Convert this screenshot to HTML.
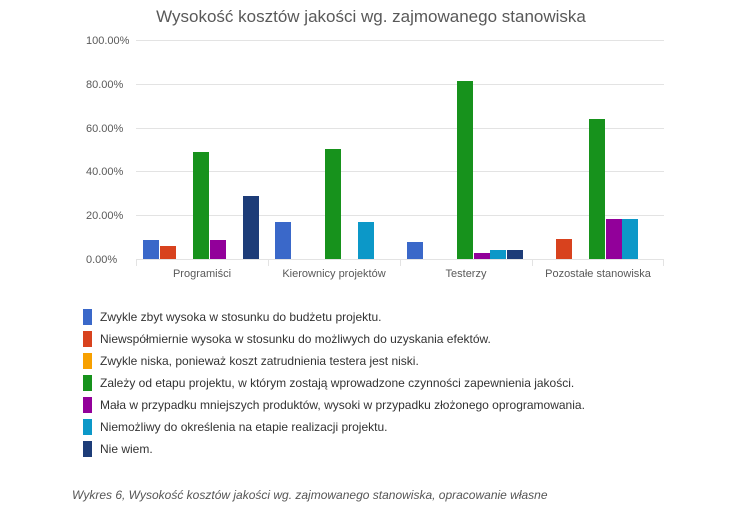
<!DOCTYPE html>
<html><head><meta charset="utf-8"><style>
body{margin:0;background:#fff}
svg{display:block}
</style></head><body>
<svg width="742" height="513" xmlns="http://www.w3.org/2000/svg" font-family="Liberation Sans, sans-serif">
<rect width="742" height="513" fill="#fff"/>
<text x="371" y="22" text-anchor="middle" font-size="17" fill="#595959">Wysokość kosztów jakości wg. zajmowanego stanowiska</text>
<g stroke="#e3e3e3" stroke-width="1">
<line x1="136" y1="40.5" x2="664" y2="40.5"/>
<line x1="136" y1="84.5" x2="664" y2="84.5"/>
<line x1="136" y1="128.5" x2="664" y2="128.5"/>
<line x1="136" y1="171.5" x2="664" y2="171.5"/>
<line x1="136" y1="215.5" x2="664" y2="215.5"/>
<line x1="136" y1="259.5" x2="664" y2="259.5"/>
<line x1="136.5" y1="259" x2="136.5" y2="266"/>
<line x1="268.5" y1="259" x2="268.5" y2="266"/>
<line x1="400.5" y1="259" x2="400.5" y2="266"/>
<line x1="532.5" y1="259" x2="532.5" y2="266"/>
<line x1="663.5" y1="259" x2="663.5" y2="266"/>
</g>
<g font-size="11" fill="#595959">
<text x="86" y="44">100.00%</text>
<text x="86" y="88">80.00%</text>
<text x="86" y="132">60.00%</text>
<text x="86" y="175">40.00%</text>
<text x="86" y="219">20.00%</text>
<text x="86" y="263">0.00%</text>
<text x="202" y="277" text-anchor="middle">Programiści</text>
<text x="334" y="277" text-anchor="middle">Kierownicy projektów</text>
<text x="466" y="277" text-anchor="middle">Testerzy</text>
<text x="598" y="277" text-anchor="middle">Pozostałe stanowiska</text>
</g>
<g>
<!-- Programiści -->
<rect x="143" y="240" width="16" height="19" fill="#3a68c9"/>
<rect x="160" y="246" width="16" height="13" fill="#d8421e"/>
<rect x="193" y="152" width="16" height="107" fill="#17921c"/>
<rect x="210" y="240" width="16" height="19" fill="#92009a"/>
<rect x="243" y="196" width="16" height="63" fill="#1d3c78"/>
<!-- Kierownicy -->
<rect x="275" y="222" width="16" height="37" fill="#3a68c9"/>
<rect x="325" y="149" width="16" height="110" fill="#17921c"/>
<rect x="358" y="222" width="16" height="37" fill="#0c98c8"/>
<!-- Testerzy -->
<rect x="407" y="242" width="16" height="17" fill="#3a68c9"/>
<rect x="457" y="81" width="16" height="178" fill="#17921c"/>
<rect x="474" y="253" width="16" height="6" fill="#92009a"/>
<rect x="490" y="250" width="16" height="9" fill="#0c98c8"/>
<rect x="507" y="250" width="16" height="9" fill="#1d3c78"/>
<!-- Pozostałe -->
<rect x="556" y="239" width="16" height="20" fill="#d8421e"/>
<rect x="589" y="119" width="16" height="140" fill="#17921c"/>
<rect x="606" y="219" width="16" height="40" fill="#92009a"/>
<rect x="622" y="219" width="16" height="40" fill="#0c98c8"/>
</g>
<g font-size="12" fill="#333">
<rect x="83" y="309" width="9" height="16" fill="#3a68c9"/><text x="100" y="321">Zwykle zbyt wysoka w stosunku do budżetu projektu.</text>
<rect x="83" y="331" width="9" height="16" fill="#d8421e"/><text x="100" y="343">Niewspółmiernie wysoka w stosunku do możliwych do uzyskania efektów.</text>
<rect x="83" y="353" width="9" height="16" fill="#f7a000"/><text x="100" y="365">Zwykle niska, ponieważ koszt zatrudnienia testera jest niski.</text>
<rect x="83" y="375" width="9" height="16" fill="#17921c"/><text x="100" y="387">Zależy od etapu projektu, w którym zostają wprowadzone czynności zapewnienia jakości.</text>
<rect x="83" y="397" width="9" height="16" fill="#92009a"/><text x="100" y="409">Mała w przypadku mniejszych produktów, wysoki w przypadku złożonego oprogramowania.</text>
<rect x="83" y="419" width="9" height="16" fill="#0c98c8"/><text x="100" y="431">Niemożliwy do określenia na etapie realizacji projektu.</text>
<rect x="83" y="441" width="9" height="16" fill="#1d3c78"/><text x="100" y="453">Nie wiem.</text>
</g>
<text x="72" y="499" font-size="12" font-style="italic" fill="#555">Wykres 6, Wysokość kosztów jakości wg. zajmowanego stanowiska, opracowanie własne</text>
</svg>
</body></html>
